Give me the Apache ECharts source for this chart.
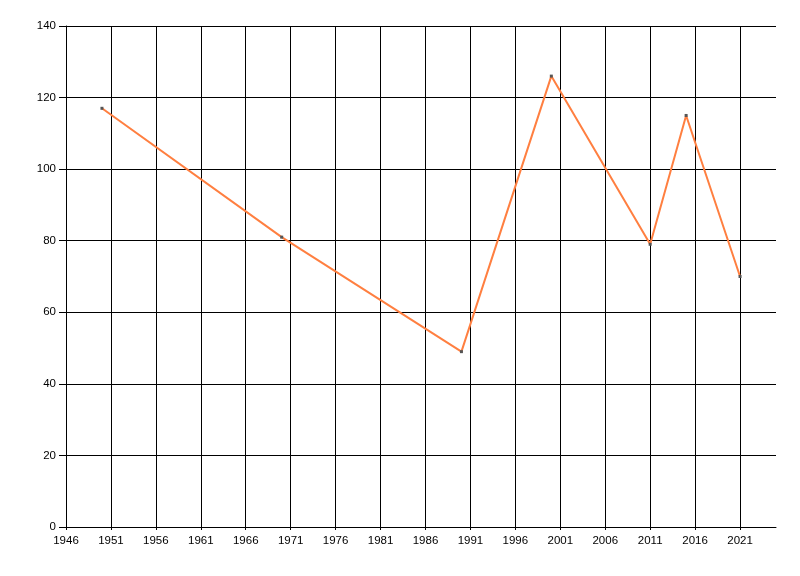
<!DOCTYPE html>
<html>
<head>
<meta charset="utf-8">
<script src="https://cdn.jsdelivr.net/npm/echarts@6/dist/echarts.min.js"></script>
<style>
html,body{margin:0;padding:0;background:#fff;}
#chart{width:800px;height:576px;}
</style>
</head>
<body>
<div id="chart"></div>
<script>
// years and values
var years = [1950, 1970, 1990, 2000, 2011, 2015, 2021];
var values = [117, 81, 49, 126, 79, 115, 70];
var yTicks = [0, 20, 40, 60, 80, 100, 120, 140];
var xStart = 1946; // first tick label on the x axis
var xEnd = 2025;

// x axis runs on offsets from xStart so the ticks land on 1946, 1951, ...
var seriesData = [];
for (var i = 0; i < years.length; i++) {
	seriesData.push([years[i] - xStart, values[i]]);
}

var chart = echarts.init(document.getElementById("chart"));
var option = {
	animation: false,
	backgroundColor: "#fff",
	grid: {left: 66, right: 24, top: 26, bottom: 49, containLabel: false},
	xAxis: {
		type: "value",
		min: 0,
		max: xEnd - xStart,
		interval: 5,
		axisLine: {show: true, onZero: false, lineStyle: {color: "#000", width: 1}},
		axisTick: {show: true, length: 3, lineStyle: {color: "#000"}},
		axisLabel: {
			color: "#000", fontSize: 11.5, fontFamily: "Liberation Sans", margin: 8,
			showMaxLabel: false,
			formatter: function(v){ return String(v + xStart); }
		},
		splitLine: {show: true, showMinLine: false, showMaxLine: false, lineStyle: {color: "#000", width: 1}}
	},
	yAxis: {
		type: "value",
		min: yTicks[0],
		max: yTicks[yTicks.length - 1],
		interval: yTicks[1] - yTicks[0],
		axisLine: {show: true, lineStyle: {color: "#000", width: 1}},
		axisTick: {show: true, length: 7, lineStyle: {color: "#000"}},
		axisLabel: {color: "#000", fontSize: 11.5, fontFamily: "Liberation Sans", margin: 10},
		splitLine: {show: true, showMinLine: false, lineStyle: {color: "#000", width: 1}}
	},
	series: [{
		type: "line",
		data: seriesData,
		symbol: "rect",
		symbolSize: 3,
		showSymbol: true,
		itemStyle: {color: "#555"},
		lineStyle: {color: "#FF7F40", width: 2},
		z: 3
	}]
};
chart.setOption(option);
</script>
</body>
</html>
